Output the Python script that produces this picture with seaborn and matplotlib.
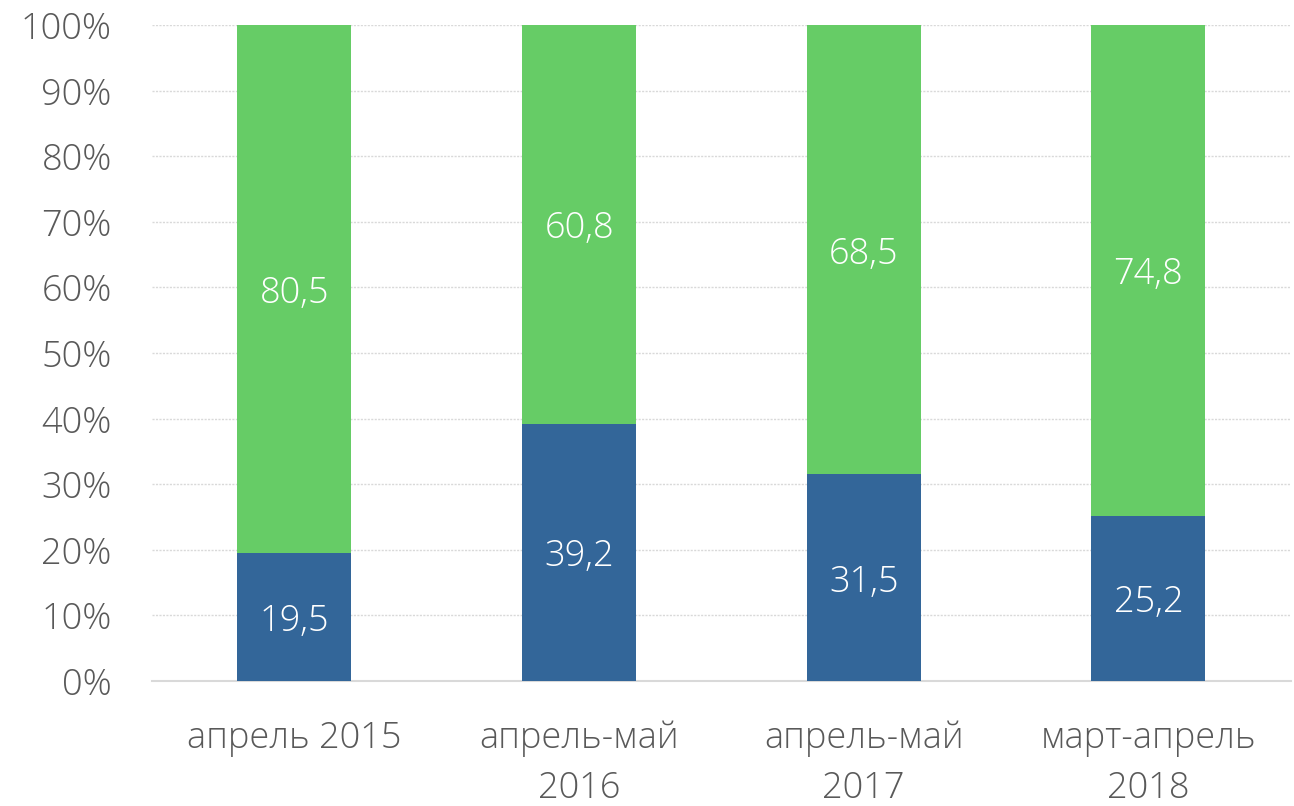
import matplotlib
matplotlib.use("Agg")
import matplotlib.pyplot as plt
import seaborn as sns
import pandas as pd
from matplotlib.ticker import PercentFormatter

categories = ["апрель 2015", "апрель-май\n2016", "апрель-май\n2017", "март-апрель\n2018"]
blue_values = [19.5, 39.2, 31.5, 25.2]
green_values = [80.5, 60.8, 68.5, 74.8]

BLUE = "#336699"
GREEN = "#66CC66"
TEXT = "#595959"

sns.set_theme(style="white")
plt.rcParams["font.family"] = ["Open Sans", "DejaVu Sans"]
plt.rcParams["font.weight"] = "light"

df = pd.DataFrame({"cat": categories, "blue": blue_values, "green": green_values})
df["total"] = df["blue"] + df["green"]

fig = plt.figure(figsize=(12.94, 8.06), dpi=100)
ax = fig.add_axes([0.1175, 0.155, 0.880, 0.814])

sns.barplot(data=df, x="cat", y="total", color=GREEN, width=0.4, saturation=1,
            linewidth=0, ax=ax, zorder=2)
sns.barplot(data=df, x="cat", y="blue", color=BLUE, width=0.4, saturation=1,
            linewidth=0, ax=ax, zorder=3)

for i, (b, g) in enumerate(zip(blue_values, green_values)):
    ax.text(i, b / 2, f"{b:.1f}".replace(".", ","), ha="center", va="center_baseline",
            color="white", fontsize=26, fontweight="light", zorder=4)
    ax.text(i, b + g / 2, f"{g:.1f}".replace(".", ","), ha="center", va="center_baseline",
            color="white", fontsize=26, fontweight="light", zorder=4)

ax.set_ylim(0, 100)
ax.set_xlim(-0.5, 3.5)
ax.set_yticks(range(0, 101, 10))
ax.yaxis.set_major_formatter(PercentFormatter(decimals=0))
ax.yaxis.grid(True, color="#D9D9D9", linestyle=(0, (1.5, 1)), linewidth=1, zorder=0)
ax.set_axisbelow(True)
for s in ["top", "right", "left"]:
    ax.spines[s].set_visible(False)
ax.spines["bottom"].set_color("#D9D9D9")
ax.spines["bottom"].set_linewidth(1.5)
ax.tick_params(axis="both", length=0, labelsize=26, labelcolor=TEXT)
ax.tick_params(axis="y", pad=29)
ax.tick_params(axis="x", pad=28)
for lbl in ax.get_xticklabels():
    lbl.set_linespacing(1.45)
ax.set_xlabel("")
ax.set_ylabel("")

fig.savefig("out.png", dpi=100)
